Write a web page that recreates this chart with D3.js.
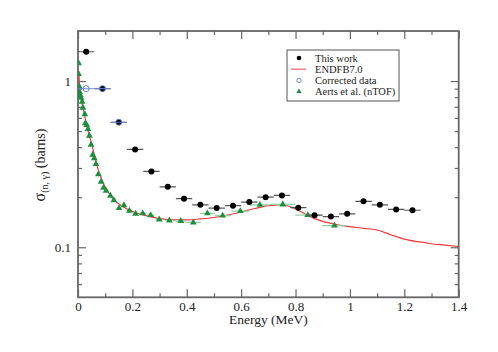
<!DOCTYPE html>
<html>
<head>
<meta charset="utf-8">
<script src="https://cdn.jsdelivr.net/npm/d3@7"></script>
<style>
  body { margin: 0; background: #fff; }
</style>
</head>
<body>
<svg id="chart" width="498" height="352"></svg>
<script>
// This work
var workE = [0.03, 0.09, 0.15, 0.21, 0.27, 0.33, 0.39, 0.45, 0.51, 0.57, 0.63, 0.69, 0.75, 0.81, 0.87, 0.93, 0.99, 1.05, 1.11, 1.17, 1.23]
var workSigma = [1.5, 0.90, 0.565, 0.388, 0.286, 0.231, 0.196, 0.180, 0.172, 0.178, 0.187, 0.200, 0.205, 0.173, 0.156, 0.153, 0.159, 0.189, 0.180, 0.169, 0.167]
var workDE = [0.03, 0.03, 0.03, 0.03, 0.03, 0.03, 0.03, 0.03, 0.03, 0.03, 0.03, 0.03, 0.03, 0.03, 0.03, 0.03, 0.03, 0.03, 0.03, 0.03, 0.03]

// Corrected data
var corrE = [0.03, 0.09, 0.15]
var corrSigma = [0.90, 0.90, 0.565]
var corrDE = [0.028, 0.03, 0.03]

// Aerts et al. (nTOF)
var aertsE = [0.002, 0.002, 0.005, 0.006, 0.0085, 0.011, 0.015, 0.018, 0.025, 0.027, 0.032, 0.037, 0.042, 0.048, 0.054, 0.060, 0.066, 0.075, 0.085, 0.094, 0.103, 0.119, 0.132, 0.151, 0.169, 0.189, 0.212, 0.238, 0.267, 0.299, 0.336, 0.378, 0.424, 0.476, 0.532, 0.597, 0.669, 0.753, 0.845, 0.943]
var aertsSigma = [1.28, 1.10, 0.924, 0.86, 0.824, 0.794, 0.751, 0.691, 0.631, 0.557, 0.544, 0.514, 0.469, 0.414, 0.36, 0.343, 0.317, 0.275, 0.248, 0.228, 0.219, 0.204, 0.192, 0.172, 0.179, 0.166, 0.159, 0.160, 0.156, 0.147, 0.145, 0.144, 0.141, 0.160, 0.155, 0.165, 0.180, 0.181, 0.156, 0.135]
var aertsDE = [0.001, 0.001, 0.001, 0.001, 0.001, 0.002, 0.002, 0.002, 0.002, 0.002, 0.003, 0.003, 0.003, 0.003, 0.003, 0.004, 0.004, 0.004, 0.005, 0.005, 0.005, 0.006, 0.006, 0.007, 0.008, 0.009, 0.010, 0.011, 0.012, 0.014, 0.016, 0.02, 0.028, 0.028, 0.03, 0.032, 0.036, 0.046, 0.046, 0.046]

// ENDFB7.0
var endfE = [0.003, 0.005, 0.01, 0.02, 0.03, 0.04, 0.05, 0.06, 0.07, 0.08, 0.09, 0.10, 0.12, 0.14, 0.16, 0.18, 0.20, 0.25, 0.30, 0.35, 0.40, 0.45, 0.50, 0.55, 0.60, 0.65, 0.70, 0.74, 0.76, 0.80, 0.85, 0.90, 0.95, 1.00, 1.05, 1.10, 1.15, 1.20, 1.25, 1.30, 1.35, 1.40]
var endfSigma = [1.15, 0.98, 0.82, 0.67, 0.56, 0.48, 0.42, 0.36, 0.31, 0.275, 0.25, 0.23, 0.205, 0.188, 0.178, 0.170, 0.164, 0.155, 0.149, 0.146, 0.146, 0.148, 0.151, 0.156, 0.163, 0.171, 0.178, 0.180, 0.179, 0.170, 0.154, 0.143, 0.137, 0.133, 0.130, 0.127, 0.119, 0.112, 0.108, 0.105, 0.103, 0.101]

var xTicks = [0, 0.2, 0.4, 0.6, 0.8, 1, 1.2, 1.4]
var xMinor = [0.1, 0.3, 0.5, 0.7, 0.9, 1.1, 1.3]
var yTicks = [0.1, 1]
var yMinor = [0.06, 0.07, 0.08, 0.09, 0.2, 0.3, 0.4, 0.5, 0.6, 0.7, 0.8, 0.9]

var serif = "'Liberation Serif', 'Times New Roman', 'DejaVu Serif', serif"
var pLeft = 78, pRight = 458.7, pTop = 31, pBottom = 297.3
var svg = d3.select('#chart').attr('font-family', serif)

var x = d3.scaleLinear().domain([0, 1.4]).range([pLeft, pRight])
var y = d3.scaleLog().domain([0.05, 2]).range([pBottom, pTop])

var axisColor = '#666'

// clip
svg.append('clipPath').attr('id', 'clip')
	.append('rect').attr('x', pLeft).attr('y', pTop).attr('width', pRight - pLeft).attr('height', pBottom - pTop)

function styleAxis(g){
	g.attr('font-family', serif)
	g.select('.domain').remove()
	g.selectAll('line').attr('stroke', axisColor).attr('stroke-width', 1.2)
	g.selectAll('text').attr('font-size', '13px').attr('fill', '#222').attr('font-family', serif)
}

// major + minor ticks
svg.append('g').attr('transform', `translate(0,${pBottom})`)
	.call(d3.axisBottom(x).tickValues(xTicks).tickSize(-8).tickPadding(4).tickFormat(d3.format('')))
	.call(styleAxis)
svg.append('g').attr('transform', `translate(0,${pBottom})`)
	.call(d3.axisBottom(x).tickValues(xMinor).tickSize(-4).tickFormat(''))
	.call(styleAxis)
svg.append('g').attr('transform', `translate(0,${pTop})`)
	.call(d3.axisTop(x).tickValues(xTicks).tickSize(-8).tickFormat(''))
	.call(styleAxis)
svg.append('g').attr('transform', `translate(0,${pTop})`)
	.call(d3.axisTop(x).tickValues(xMinor).tickSize(-4).tickFormat(''))
	.call(styleAxis)

svg.append('g').attr('transform', `translate(${pLeft},0)`)
	.call(d3.axisLeft(y).tickValues(yTicks).tickSize(-8).tickPadding(7).tickFormat(d3.format('')))
	.call(styleAxis)
svg.append('g').attr('transform', `translate(${pLeft},0)`)
	.call(d3.axisLeft(y).tickValues(yMinor).tickSize(-4).tickFormat(''))
	.call(styleAxis)
svg.append('g').attr('transform', `translate(${pRight},0)`)
	.call(d3.axisRight(y).tickValues(yTicks).tickSize(-8).tickFormat(''))
	.call(styleAxis)
svg.append('g').attr('transform', `translate(${pRight},0)`)
	.call(d3.axisRight(y).tickValues(yMinor).tickSize(-4).tickFormat(''))
	.call(styleAxis)

// frame
svg.append('rect')
	.attr('x', pLeft).attr('y', pTop).attr('width', pRight - pLeft).attr('height', pBottom - pTop)
	.attr('fill', 'none').attr('stroke', axisColor).attr('stroke-width', 1.8)

var plot = svg.append('g').attr('clip-path', 'url(#clip)')

// ENDF curve
var endf = endfE.map((e, i) => ({e: e, s: endfSigma[i]}))
plot.append('path')
	.datum(endf)
	.attr('fill', 'none')
	.attr('stroke', '#f03a3a')
	.attr('stroke-width', 1.2)
	.attr('d', d3.line().x(d => x(d.e)).y(d => y(d.s)).curve(d3.curveMonotoneX))

// Aerts
var aerts = aertsE.map((e, i) => ({e: e, s: aertsSigma[i], de: aertsDE[i]}))
plot.append('g').selectAll('line').data(aerts).enter()
	.append('line')
	.attr('x1', d => x(d.e - d.de)).attr('x2', d => x(d.e + d.de))
	.attr('y1', d => y(d.s)).attr('y2', d => y(d.s))
	.attr('stroke', '#8fd3a0').attr('stroke-width', 1.3)
plot.append('g').selectAll('path').data(aerts).enter()
	.append('path')
	.attr('transform', d => `translate(${x(d.e)},${y(d.s)})`)
	.attr('d', d3.symbol(d3.symbolTriangle, 20))
	.attr('fill', '#1f8f3f')

// This work
var work = workE.map((e, i) => ({e: e, s: workSigma[i], de: workDE[i]}))
plot.append('g').selectAll('line').data(work).enter()
	.append('line')
	.attr('x1', d => x(d.e - d.de)).attr('x2', d => x(d.e + d.de))
	.attr('y1', d => y(d.s)).attr('y2', d => y(d.s))
	.attr('stroke', '#555').attr('stroke-width', 1.2)
plot.append('g').selectAll('circle').data(work).enter()
	.append('circle')
	.attr('cx', d => x(d.e)).attr('cy', d => y(d.s)).attr('r', 3)
	.attr('fill', '#000')

// Corrected data
var corr = corrE.map((e, i) => ({e: e, s: corrSigma[i], de: corrDE[i]}))
plot.append('g').selectAll('line').data(corr).enter()
	.append('line')
	.attr('x1', d => x(d.e - d.de)).attr('x2', d => x(d.e + d.de))
	.attr('y1', d => y(d.s)).attr('y2', d => y(d.s))
	.attr('stroke', '#6f8fd8').attr('stroke-width', 1.2).attr('stroke-opacity', 0.8)
plot.append('g').selectAll('circle').data(corr).enter()
	.append('circle')
	.attr('cx', d => x(d.e)).attr('cy', d => y(d.s)).attr('r', 3)
	.attr('fill', 'none').attr('stroke', '#5b7fd6').attr('stroke-width', 1)

// axis titles
svg.append('text')
	.attr('x', (pLeft + pRight) / 2).attr('y', 324)
	.attr('text-anchor', 'middle').attr('font-size', '13.5px').attr('fill', '#222')
	.text('Energy (MeV)')

var yl = svg.append('text')
	.attr('transform', 'translate(45,165) rotate(-90)')
	.attr('text-anchor', 'middle').attr('font-size', '14px').attr('fill', '#222')
yl.append('tspan').attr('font-size', '16px').text('σ')
yl.append('tspan').attr('font-size', '10px').attr('dy', 3).text('(n, γ)')
yl.append('tspan').attr('dy', -3).text(' (barns)')

// legend
var lg = svg.append('g').attr('transform', 'translate(287,50)')
lg.append('rect').attr('width', 112).attr('height', 51)
	.attr('fill', '#fff').attr('stroke', '#555').attr('stroke-width', 1)
var items = ['This work', 'ENDFB7.0', 'Corrected data', 'Aerts et al. (nTOF)']
items.forEach((t, i) => {
	var cy = 8 + i * 11.2
	if (i == 0) lg.append('circle').attr('cx', 12).attr('cy', cy).attr('r', 2.3).attr('fill', '#000')
	if (i == 1) lg.append('line').attr('x1', 4).attr('x2', 19).attr('y1', cy).attr('y2', cy).attr('stroke', '#f07070').attr('stroke-width', 1.3)
	if (i == 2) lg.append('circle').attr('cx', 12).attr('cy', cy).attr('r', 2.2).attr('fill', 'none').attr('stroke', '#5b7fd6').attr('stroke-width', 0.9)
	if (i == 3) lg.append('path').attr('transform', `translate(12,${cy})`).attr('d', d3.symbol(d3.symbolTriangle, 12)).attr('fill', '#1f8f3f')
	lg.append('text').attr('x', 28).attr('y', cy + 3.8).attr('font-size', '10.5px').attr('fill', '#222').text(t)
})
</script>
</body>
</html>
